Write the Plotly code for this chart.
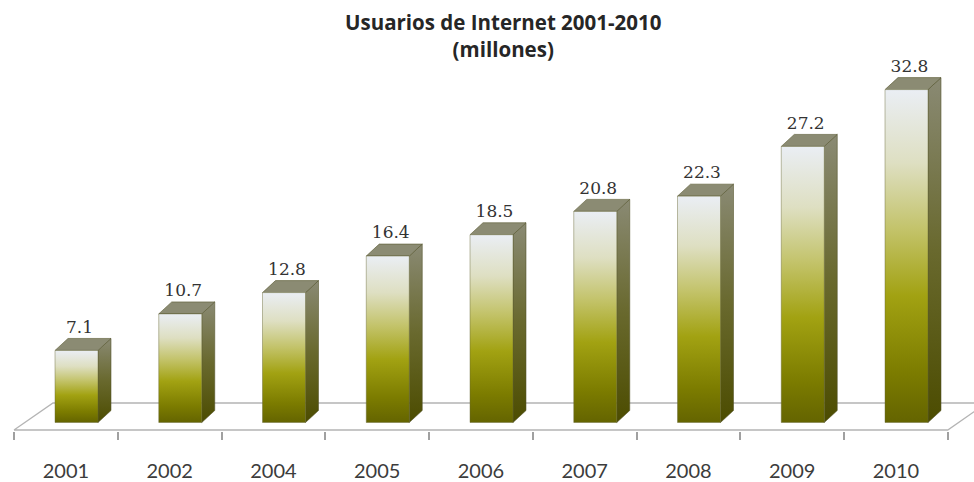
import plotly.graph_objects as go

# ---- data -------------------------------------------------------------
years = ["2001", "2002", "2004", "2005", "2006", "2007", "2008", "2009", "2010"]
users_millions = [7.1, 10.7, 12.8, 16.4, 18.5, 20.8, 22.3, 27.2, 32.8]
title_text = "Usuarios de Internet 2001-2010<br>(millones)"

# ---- page / scale geometry (pixels) ----------------------------------
W, H = 974, 482
SLOT_PX = 103.75          # width of one category slot
X0_PX = 14                # left edge of the first slot
PLOT_BOTTOM_PX = 431      # bottom of plotting area (tick marks start here)
BASE_PX = 422.5           # pixel row of value 0 at the bars' front face
UNIT_PX = 10.15           # pixels per million users

def dx(px):
    return px / SLOT_PX

def dy(px):
    return px / UNIT_PX

x_range = [-0.5 - dx(X0_PX), -0.5 + dx(W - X0_PX)]
y_range = [dy(BASE_PX - PLOT_BOTTOM_PX), dy(BASE_PX)]

# 3-D box proportions
FRONT_L = dx(41 - SLOT_PX / 2)   # front face left edge, relative to slot centre
FRONT_W = dx(43)                 # front face width
DEPTH_X = dx(13)
DEPTH_Y = dy(12)

# floor parallelogram
FLOOR_FRONT = dy(BASE_PX - 430)
FLOOR_BACK = dy(BASE_PX - 403)
FLOOR_DX = dx(39)

front_scale = [
    [0.0, "#646400"], [0.15, "#7c7c00"], [0.38, "#a2a212"],
    [0.58, "#c3c36a"], [0.78, "#dedfc2"], [1.0, "#eaeef4"],
]
side_scale = [[0.0, "#4c4c00"], [0.5, "#69692e"], [1.0, "#8a8a74"]]
top_colour = "#8b8b73"

fig = go.Figure()

# floor
n = len(years)
fig.add_trace(go.Scatter(
    x=[-0.5, n - 0.5, n - 0.5 + FLOOR_DX, -0.5 + FLOOR_DX, -0.5],
    y=[FLOOR_FRONT, FLOOR_FRONT, FLOOR_BACK, FLOOR_BACK, FLOOR_FRONT],
    mode="lines", fill="toself", fillcolor="white",
    line=dict(color="#b4b4b4", width=1.3),
    hoverinfo="skip", showlegend=False,
))

# bars: front, side and top faces
for i, v in enumerate(users_millions):
    xl = i + FRONT_L
    xr = xl + FRONT_W
    # side face
    fig.add_trace(go.Scatter(
        x=[xr, xr + DEPTH_X, xr + DEPTH_X, xr, xr],
        y=[0, DEPTH_Y, v + DEPTH_Y, v, 0],
        mode="lines", fill="toself",
        fillgradient=dict(type="vertical", colorscale=side_scale),
        line=dict(color="rgba(80,80,40,0.7)", width=0.8),
        hoverinfo="skip", showlegend=False,
    ))
    # top face
    fig.add_trace(go.Scatter(
        x=[xl, xr, xr + DEPTH_X, xl + DEPTH_X, xl],
        y=[v, v, v + DEPTH_Y, v + DEPTH_Y, v],
        mode="lines", fill="toself", fillcolor=top_colour,
        line=dict(color="rgba(80,80,40,0.7)", width=0.8),
        hoverinfo="skip", showlegend=False,
    ))
    # front face
    fig.add_trace(go.Scatter(
        x=[xl, xr, xr, xl, xl],
        y=[0, 0, v, v, 0],
        mode="lines", fill="toself",
        fillgradient=dict(type="vertical", colorscale=front_scale),
        line=dict(color="rgba(100,100,50,0.55)", width=0.8),
        hoverinfo="skip", showlegend=False,
        name=years[i],
    ))

# value labels above the bars
fig.add_trace(go.Scatter(
    x=[i + FRONT_L + FRONT_W / 2 + dx(3) for i in range(n)],
    y=[v + dy(22) for v in users_millions],
    mode="text",
    text=[f"{v:.1f}" for v in users_millions],
    textposition="middle center",
    textfont=dict(family="DejaVu Serif", size=17, color="#333333"),
    hoverinfo="skip", showlegend=False,
))

# two-line chart title
fig.add_annotation(
    text=title_text, xref="paper", yref="paper",
    x=503 / W, xanchor="center",
    y=1 - 6 / PLOT_BOTTOM_PX, yanchor="top",
    showarrow=False,
    font=dict(family="Open Sans", size=20.5, color="#262626", weight="bold"),
)

fig.update_layout(
    width=W, height=H,
    margin=dict(l=0, r=0, t=0, b=H - PLOT_BOTTOM_PX),
    paper_bgcolor="white", plot_bgcolor="white",
    xaxis=dict(
        range=x_range, showgrid=False, zeroline=False, showline=False,
        tickmode="array", tickvals=list(range(n)), ticktext=years,
        ticks="", ticklabelstandoff=26,
        tickfont=dict(family="Lato", size=20, color="#3c3c3c"),
        minor=dict(
            tickmode="array", tickvals=[k - 0.5 for k in range(n + 1)],
            ticks="outside", ticklen=8, tickcolor="#a0a0a0", tickwidth=1.5,
            showgrid=False,
        ),
    ),
    yaxis=dict(
        range=y_range, visible=False, showgrid=False, zeroline=False,
    ),
)

fig.write_html("out.html")
